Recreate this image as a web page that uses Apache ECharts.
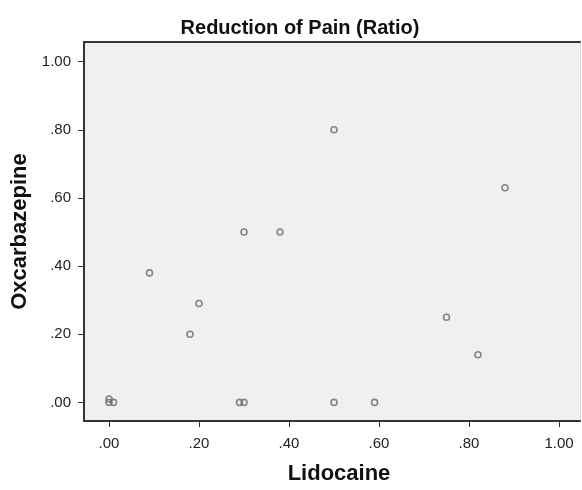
<!DOCTYPE html>
<html>
<head>
<meta charset="utf-8">
<script src="https://cdn.jsdelivr.net/npm/echarts@6/dist/echarts.min.js"></script>
<style>html,body{margin:0;padding:0;background:#fff;}#c{width:582px;height:490px;}</style>
</head>
<body>
<div id="c"></div>
<script>
var lidocaine    = [0.00, 0.00, 0.01, 0.09, 0.18, 0.20, 0.29, 0.30, 0.30, 0.38, 0.50, 0.50, 0.59, 0.75, 0.82, 0.88];
var oxcarbazepine= [0.01, 0.00, 0.00, 0.38, 0.20, 0.29, 0.00, 0.00, 0.50, 0.50, 0.80, 0.00, 0.00, 0.25, 0.14, 0.63];
var tickValues = [0, 0.2, 0.4, 0.6, 0.8, 1.0];
var tickLabels = ['.00', '.20', '.40', '.60', '.80', '1.00'];

var points = lidocaine.map(function (x, i) { return [x, oxcarbazepine[i]]; });
function fmt(v) {
  for (var i = 0; i < tickValues.length; i++) if (Math.abs(v - tickValues[i]) < 1e-9) return tickLabels[i];
  return '';
}
var font = 'Liberation Sans, Arial, Helvetica, sans-serif';
var chart = echarts.init(document.getElementById('c'), null, {renderer: 'canvas'});
chart.setOption({
  backgroundColor: '#ffffff',
  animation: false,
  title: {
    text: 'Reduction of Pain (Ratio)',
    left: 295, top: 13, textAlign: 'center',
    textStyle: {fontFamily: font, fontSize: 20, fontWeight: 'bold', color: '#111'}
  },
  grid: {left: 84, top: 42, right: 2, bottom: 61, show: true, backgroundColor: '#f0f0f0', borderWidth: 0},
  xAxis: [{
    type: 'value', min: -0.0556, max: 1.0467, position: 'bottom',
    name: 'Lidocaine', nameLocation: 'middle', nameGap: 42,
    nameTextStyle: {fontFamily: font, fontSize: 22, fontWeight: 'bold', color: '#111', padding: [0, 0, 0, 14]},
    axisLine: {show: true, onZero: false, lineStyle: {color: '#333', width: 2}},
    axisTick: {show: true, length: 6, customValues: tickValues, lineStyle: {color: '#333', width: 1}},
    axisLabel: {customValues: tickValues, formatter: fmt, margin: 15, fontFamily: font, fontSize: 15, color: '#222'},
    splitLine: {show: false}
  }, {
    type: 'value', min: -0.0556, max: 1.0467, position: 'top',
    axisLine: {show: true, onZero: false, lineStyle: {color: '#333', width: 2}},
    axisTick: {show: false}, axisLabel: {show: false}, splitLine: {show: false}
  }],
  yAxis: [{
    type: 'value', min: -0.0546, max: 1.0575, position: 'left',
    name: 'Oxcarbazepine', nameLocation: 'middle', nameGap: 50,
    nameTextStyle: {fontFamily: font, fontSize: 22, fontWeight: 'bold', color: '#111'},
    axisLine: {show: true, onZero: false, lineStyle: {color: '#333', width: 2}},
    axisTick: {show: true, length: 6, customValues: tickValues, lineStyle: {color: '#333', width: 1}},
    axisLabel: {customValues: tickValues, formatter: fmt, margin: 13, fontFamily: font, fontSize: 15, color: '#222'},
    splitLine: {show: false}
  }, {
    type: 'value', min: -0.0546, max: 1.0575, position: 'right',
    axisLine: {show: true, onZero: false, lineStyle: {color: '#d8d8d8', width: 1}},
    axisTick: {show: false}, axisLabel: {show: false}, splitLine: {show: false}
  }],
  series: [{
    type: 'scatter', xAxisIndex: 0, yAxisIndex: 0,
    data: points, symbol: 'circle', symbolSize: 6,
    itemStyle: {color: 'rgba(0,0,0,0)', borderColor: '#6a6a6a', borderWidth: 1.6}
  }]
});
</script>
</body>
</html>
